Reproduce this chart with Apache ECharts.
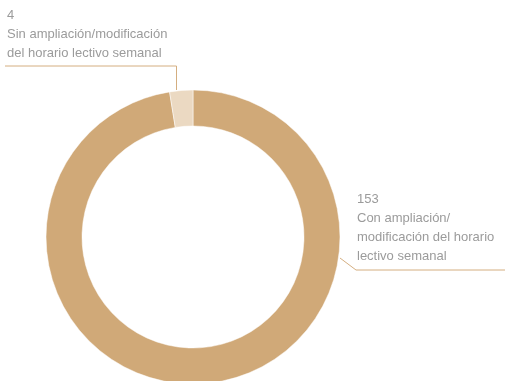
<!DOCTYPE html>
<html><head><meta charset="utf-8">
<script src="https://cdn.jsdelivr.net/npm/echarts@6/dist/echarts.min.js"></script>
<style>html,body{margin:0;padding:0;background:#fff}#c{width:505px;height:381px}</style>
</head><body><div id="c"></div>
<script>
const categories = ['Con ampliación/\nmodificación del horario\nlectivo semanal', 'Sin ampliación/modificación\ndel horario lectivo semanal'];
const values = [153, 4];
const colors = ['#d0a978', '#ebd9c2'];

const chart = echarts.init(document.getElementById('c'));
chart.setOption({
  animation: false,
  series: [{
    type: 'pie',
    center: [193, 237],
    radius: [111, 147],
    startAngle: 90,
    clockwise: true,
    data: categories.map((n, i) => ({name: n, value: values[i], itemStyle: {color: colors[i]}})),
    itemStyle: {borderColor: '#fff', borderWidth: 0.5},
    label: {
      show: true,
      formatter: '{c}\n{b}',
      color: '#9b9b9b',
      fontFamily: '"Liberation Sans Narrow", "Liberation Sans", sans-serif',
      fontSize: 13,
      lineHeight: 19,
      align: 'left',
      overflow: 'none',
      width: 300
    },
    labelLine: {show: true, lineStyle: {color: '#d4ae80', width: 1}},
    labelLayout: function (p) {
      if (p.dataIndex === 0) {
        return {x: 357, y: 266, align: 'left', verticalAlign: 'bottom',
          labelLinePoints: [[340, 258], [356, 270], [505, 270]]};
      }
      return {x: 7, y: 63, align: 'left', verticalAlign: 'bottom',
        labelLinePoints: [[176.5, 90], [176.5, 66], [5, 66]]};
    }
  }]
});
</script></body></html>
